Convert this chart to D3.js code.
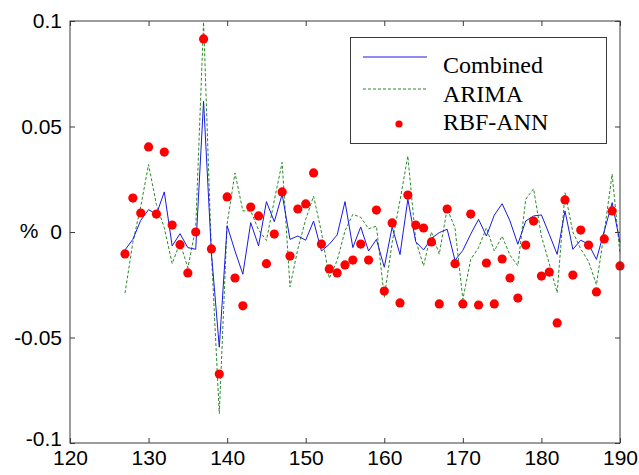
<!DOCTYPE html>
<html>
<head>
<meta charset="utf-8">
<script src="https://cdn.jsdelivr.net/npm/d3@7"></script>
<style>
html,body{margin:0;padding:0;background:#fff;}
svg{display:block;}
</style>
</head>
<body>
<svg id="chart" width="639" height="475"></svg>
<script>
// ---- data ----
const xValues = [127,128,129,130,131,132,133,134,135,136,137,138,139,140,141,142,143,144,145,146,147,148,149,150,151,152,153,154,155,156,157,158,159,160,161,162,163,164,165,166,167,168,169,170,171,172,173,174,175,176,177,178,179,180,181,182,183,184,185,186,187,188,189,190];
const combined = [-0.0085,-0.0035,0.0055,0.0106,0.0084,0.019,-0.0066,-0.0008,-0.0074,-0.0082,
  0.062,-0.01,-0.0546,0.003,-0.009,-0.02,0.0044,-0.0066,0.0144,0.0049,
  0.0179,-0.0035,-0.0019,-0.0039,0.0052,-0.009,-0.0058,-0.0014,0.0144,-0.0074,
  0.0024,-0.009,-0.0035,-0.0167,0.0024,-0.0107,0.0155,-0.0046,-0.0085,-0.003,
  -0.0003,0.0013,-0.0134,-0.0087,-0.001,0.006,-0.0019,0.008,0.0134,0.0052,
  -0.0058,0.0052,0.0076,0.0081,-0.0011,-0.0106,0.01,-0.0082,-0.0039,-0.0058,
  -0.013,0.0005,0.0139,-0.005];
const arima = [-0.029,-0.005,0.012,0.032,0.013,0.002,-0.015,-0.005,-0.017,0.002,
  0.0995,-0.01,-0.086,0.004,0.028,0.01,0.01,0.001,-0.004,0.015,
  0.033,-0.026,-0.008,0.006,0.017,0.0,-0.022,-0.0135,0.0005,0.0084,
  0.007,0.0015,0.0028,-0.031,-0.005,0.015,0.036,-0.004,-0.016,0.0,
  -0.0105,0.011,0.002,-0.032,-0.013,-0.0074,0.002,-0.009,-0.002,-0.011,
  -0.016,0.0155,0.0205,-0.002,-0.015,-0.0288,0.0186,0.0,-0.008,-0.014,
  -0.025,0.0,0.0274,-0.0105];
const rbfAnn = [-0.0104,0.0161,0.009,0.0403,0.0085,0.0379,0.0033,-0.006,-0.0194,0,
  0.0915,-0.008,-0.0673,0.0166,-0.0218,-0.035,0.0118,0.0076,-0.015,-0.001,
  0.019,-0.0114,0.0109,0.0133,0.028,-0.0057,-0.0175,-0.0194,-0.0156,-0.0133,
  -0.0057,-0.0133,0.0104,-0.028,0.0043,-0.0336,0.0175,0.0033,0.0019,-0.0047,
  -0.0341,0.0109,-0.015,-0.0341,0.0085,-0.0346,-0.0147,-0.0341,-0.0128,-0.0218,
  -0.0313,-0.0062,0.0052,-0.0209,-0.019,-0.0431,0.0152,-0.0204,0.0009,-0.0062,
  -0.0284,-0.0033,0.01,-0.0161];
const xTicks = [120,130,140,150,160,170,180,190];
const yTicks = [-0.1,-0.05,0,0.05,0.1];
const yTickLabels = ["-0.1","-0.05","0","0.05","0.1"];
const seriesNames = ["Combined","ARIMA","RBF-ANN"];
const yLabel = "%";

// ---- layout ----
const svg = d3.select("#chart");
const L = 70, R = 620, T = 21, B = 443;
const x = d3.scaleLinear().domain([120,190]).range([L,R]);
const y = d3.scaleLinear().domain([-0.1,0.1]).range([B,T]);

const frameColor = "#3a3a3a";
const tickFont = "'Liberation Sans', Arial, sans-serif";

// data
const ptsC = xValues.map((d,i)=>[d,combined[i]]);
const ptsA = xValues.map((d,i)=>[d,arima[i]]);
const ptsR = xValues.map((d,i)=>[d,rbfAnn[i]]);
const line = d3.line().x(d=>x(d[0])).y(d=>y(d[1]));

svg.append("path").attr("d", line(ptsA)).attr("fill","none")
  .attr("stroke","#2a8a2a").attr("stroke-width",1).attr("stroke-dasharray","3,2");
svg.append("path").attr("d", line(ptsC)).attr("fill","none")
  .attr("stroke","#1a1ae0").attr("stroke-width",1);
svg.append("g").selectAll("circle").data(ptsR).join("circle")
  .attr("cx",d=>x(d[0])).attr("cy",d=>y(d[1])).attr("r",4.6).attr("fill","#ff0000");

// axes
function styleAxis(g){
  g.select(".domain").remove();
  g.selectAll(".tick line").attr("stroke",frameColor);
  g.selectAll("text").attr("font-family",tickFont).attr("font-size",21).attr("fill","#000");
}
svg.append("g").attr("transform",`translate(0,${B})`)
  .call(d3.axisBottom(x).tickValues(xTicks).tickSize(-5).tickPadding(7).tickFormat(d=>String(d)))
  .call(styleAxis);
svg.append("g").attr("transform",`translate(0,${T})`)
  .call(d3.axisTop(x).tickValues(xTicks).tickSize(-5).tickFormat(""))
  .call(styleAxis);
const yAxisG = svg.append("g").attr("transform",`translate(${L},0)`)
  .call(d3.axisLeft(y).tickValues(yTicks).tickSize(-5).tickPadding(8).tickFormat((d,i)=>yTickLabels[i]))
  .call(styleAxis);
// lowest label sits slightly above its tick, as in the reference
yAxisG.selectAll(".tick text").filter(d=>d===-0.1).attr("dy","0.1em");
svg.append("g").attr("transform",`translate(${R},0)`)
  .call(d3.axisRight(y).tickValues(yTicks).tickSize(-5).tickFormat(""))
  .call(styleAxis);

svg.append("rect").attr("x",L).attr("y",T).attr("width",R-L).attr("height",B-T)
  .attr("fill","none").attr("stroke",frameColor).attr("stroke-width",1);

svg.append("text").attr("x",29).attr("y",y(0)).attr("dy","0.3em")
  .attr("text-anchor","middle").attr("font-family",tickFont).attr("font-size",21)
  .text(yLabel);

// legend
const lg = svg.append("g");
lg.append("rect").attr("x",350.5).attr("y",37.5).attr("width",256).attr("height",106)
  .attr("fill","#fff").attr("stroke",frameColor).attr("stroke-width",1);
const legendFont = "'Liberation Serif', 'Times New Roman', serif";
lg.append("line").attr("x1",363).attr("x2",427).attr("y1",57).attr("y2",57)
  .attr("stroke","#1a1ae0").attr("stroke-width",1);
lg.append("line").attr("x1",363).attr("x2",427).attr("y1",89).attr("y2",89)
  .attr("stroke","#2a8a2a").attr("stroke-width",1).attr("stroke-dasharray","3,2");
lg.append("circle").attr("cx",399).attr("cy",124).attr("r",3.6).attr("fill","#ff0000");
const baselines = [73,102,130];
seriesNames.forEach((n,i)=>{
  lg.append("text").attr("x",443).attr("y",baselines[i])
    .attr("font-family",legendFont).attr("font-size",24).attr("fill","#000").text(n);
});
</script>
</body>
</html>
